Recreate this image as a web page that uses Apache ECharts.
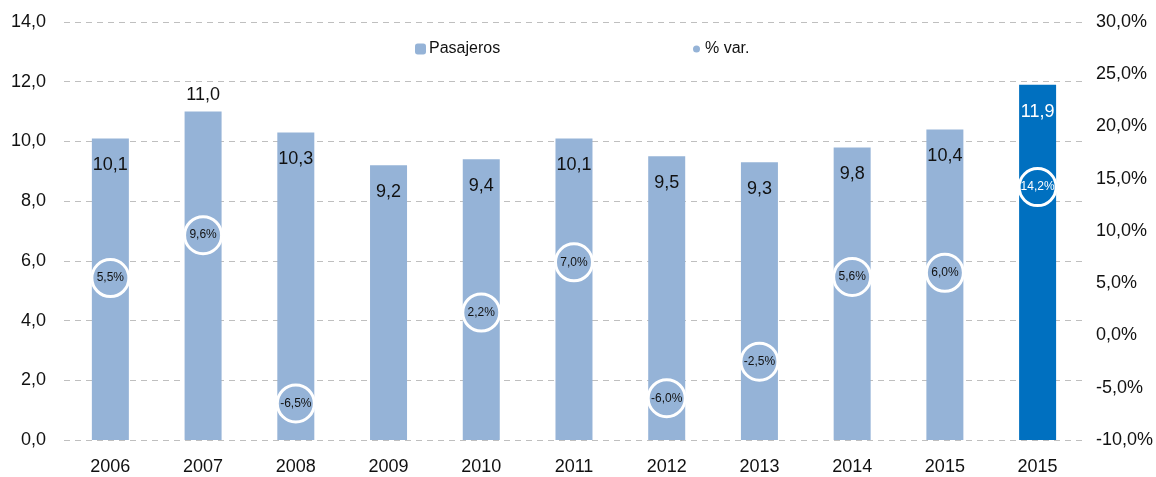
<!DOCTYPE html>
<html><head><meta charset="utf-8">
<script src="https://cdn.jsdelivr.net/npm/echarts@6/dist/echarts.min.js"></script>
<style>html,body{margin:0;padding:0;background:#fff}#c{width:1156px;height:477px}</style>
</head><body><div id="c"></div>
<script>
const categories = ['2006','2007','2008','2009','2010','2011','2012','2013','2014','2015','2015'];
const pasajeros = [10.1, 11.0, 10.3, 9.2, 9.4, 10.1, 9.5, 9.3, 9.8, 10.4, 11.9];
const variacion = [5.5, 9.6, -6.5, null, 2.2, 7.0, -6.0, -2.5, 5.6, 6.0, 14.2];
const leftTicks = {min: 0, max: 14, interval: 2};
const rightTicks = {min: -10, max: 30, interval: 5};

const FONT = '"Liberation Sans", Arial, sans-serif';
const LIGHT = '#95B3D7', DARK = '#0070C0';
const fmt = v => v.toFixed(1).replace('.', ',');
const last = categories.length - 1;

const barData = pasajeros.map((v, i) => {
  const d = {value: v};
  if (i === last) { d.itemStyle = {color: DARK}; d.label = {color: '#fff'}; }
  if (i === 1) { d.label = {position: 'top', distance: 8}; }
  return d;
});
const dotData = variacion.map((v, i) => {
  const d = {value: v};
  if (i === last) { d.itemStyle = {color: DARK}; d.label = {color: '#fff'}; }
  return d;
});

const chart = echarts.init(document.getElementById('c'), null, {renderer: 'canvas'});
chart.setOption({
  animation: false,
  textStyle: {fontFamily: FONT},
  legend: [
    {data: ['Pasajeros'], left: 410, top: 36, itemWidth: 11, itemHeight: 11, itemGap: 4,
     textStyle: {fontSize: 16, color: '#111', fontFamily: FONT, padding: [0,0,0,-2]}},
    {data: [{name: '% var.', itemStyle: {color: LIGHT, borderWidth: 0}}], left: 688, top: 36, itemWidth: 7, itemHeight: 7,
     textStyle: {fontSize: 16, color: '#111', fontFamily: FONT}}
  ],
  grid: {left: 64, right: 71, top: 22, bottom: 37},
  xAxis: {
    type: 'category', data: categories,
    axisLine: {show: false}, axisTick: {show: false},
    axisLabel: {fontSize: 18, color: '#111', margin: 18, fontFamily: FONT}
  },
  yAxis: [
    {type: 'value', min: leftTicks.min, max: leftTicks.max, interval: leftTicks.interval,
     axisLabel: {fontSize: 18, color: '#111', margin: 18, formatter: v => fmt(v), fontFamily: FONT},
     splitLine: {lineStyle: {type: [6, 5], color: '#BFBFBF', width: 1}},
     axisLine: {show: false}, axisTick: {show: false}},
    {type: 'value', min: rightTicks.min, max: rightTicks.max, interval: rightTicks.interval,
     axisLabel: {fontSize: 18, color: '#111', margin: 12, formatter: v => fmt(v) + '%', fontFamily: FONT},
     splitLine: {show: false}, axisLine: {show: false}, axisTick: {show: false}}
  ],
  series: [
    {name: 'Pasajeros', type: 'bar', data: barData, barWidth: 37, yAxisIndex: 0,
     itemStyle: {color: LIGHT},
     label: {show: true, position: 'insideTop', distance: 18, fontSize: 18, color: '#111',
             fontFamily: FONT, formatter: p => fmt(p.value)}},
    {name: '% var.', type: 'scatter', data: dotData, yAxisIndex: 1,
     symbol: 'circle', symbolSize: 37,
     itemStyle: {color: LIGHT, borderColor: '#fff', borderWidth: 3, opacity: 1},
     label: {show: true, position: 'inside', fontSize: 12, color: '#111', fontFamily: FONT,
             formatter: p => fmt(p.value) + '%'},
     z: 5}
  ]
});
</script></body></html>
